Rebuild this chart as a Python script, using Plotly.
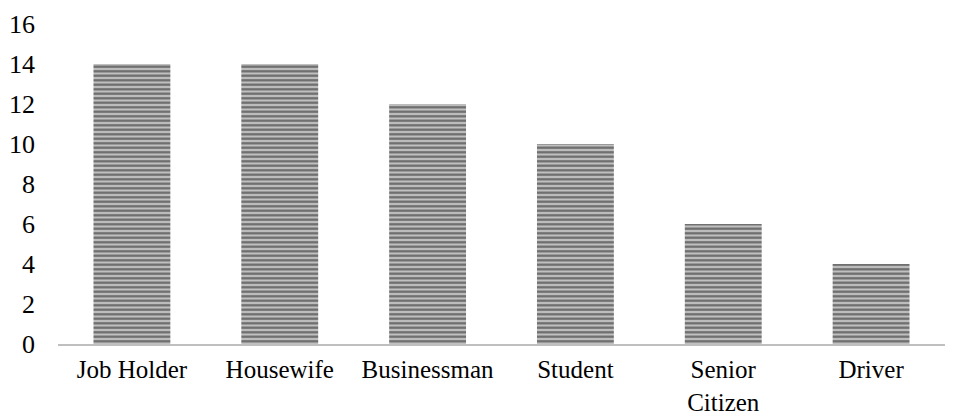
import plotly.graph_objects as go

categories = ["Job Holder", "Housewife", "Businessman", "Student", "Senior<br>Citizen", "Driver"]
values = [14, 14, 12, 10, 6, 4]
y_ticks = [0, 2, 4, 6, 8, 10, 12, 14, 16]

fig = go.Figure(go.Bar(
    x=categories, y=values,
    width=0.52,
    marker=dict(
        color="#a0a0a0",
        line=dict(width=0),
        pattern=dict(shape="-", fgcolor="#6a6a6a", bgcolor="#c0c0c0", size=4.5, solidity=0.5, fillmode="replace"),
    ),
))

font = dict(family="Liberation Serif, Times New Roman, serif", size=26, color="#000")
xfont = dict(family="Liberation Serif, Times New Roman, serif", size=25, color="#000")
fig.update_layout(
    width=954, height=416,
    margin=dict(l=58, r=9, t=24, b=72),
    paper_bgcolor="white", plot_bgcolor="white",
    font=font, showlegend=False, bargap=0.48,
)
fig.update_yaxes(range=[0, 16], tickvals=y_ticks, showgrid=False, zeroline=False,
                 showline=False, ticks="", ticklabelstandoff=22, tickfont=font,
                 automargin=False)
fig.update_xaxes(showline=True, linecolor="#bfbfbf", linewidth=2, ticks="",
                 showgrid=False, ticklabelstandoff=2, tickfont=xfont, automargin=False)
fig.write_html("out.html")
